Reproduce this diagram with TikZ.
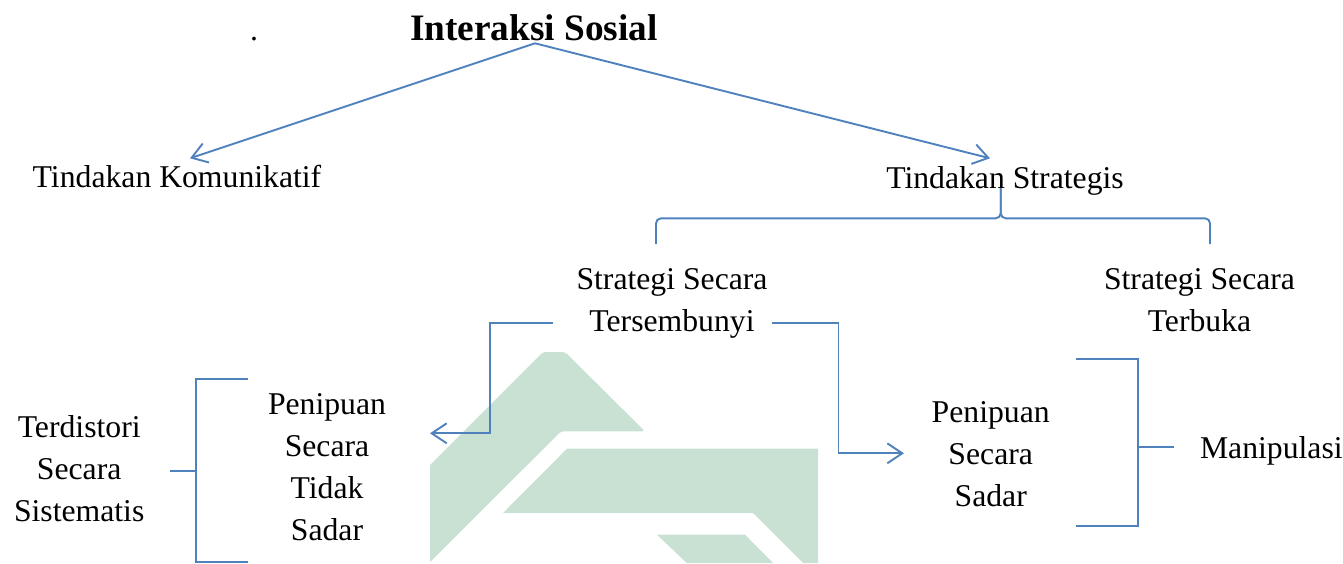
\documentclass[tikz,border=0pt]{standalone}
\usepackage{fontspec}
\setmainfont{Liberation Serif}
\usetikzlibrary{arrows.meta,calc}
\definecolor{lineblue}{HTML}{4F81BD}
\definecolor{wmgreen}{HTML}{C8E1D3}
\begin{document}
\begin{tikzpicture}[x=1pt,y=-1pt,
  lbl/.style={font=\fontsize{31.7}{42.2}\selectfont, align=center, inner sep=0pt, anchor=base},
  conn/.style={draw=lineblue, line width=1.9pt},
  arr/.style={conn, -{Straight Barb[length=15pt,width=20pt]}}]
\useasboundingbox (0,0) rectangle (1343,563);
% watermark
\begin{scope}
\clip (430,340) rectangle (818,563);
\fill[wmgreen, rounded corners=3pt] (543,352) -- (565,352) -- (645,431.3) -- (561,431.3) -- (400,592) -- (380,600) -- (380,515) -- cycle;
\fill[wmgreen] (567,448.7) -- (818,448.7) -- (818,563) -- (803,563) -- (753,513) -- (503,513) -- cycle;
\fill[wmgreen] (657,534.7) -- (745,534.7) -- (773,563) -- (686.7,563) -- cycle;
\end{scope}
% texts (multi-line nodes: base = baseline of last line)
\node[lbl, font=\bfseries\fontsize{37.3}{44}\selectfont] (title) at (534,40.7) {Interaksi Sosial};
\node[lbl] (dot) at (254,40) {.};
\node[lbl] (tk) at (177,187.5) {Tindakan Komunikatif};
\node[lbl] (ts) at (1005,188.3) {Tindakan Strategis};
\node[lbl] (sst) at (672,331.5) {Strategi Secara\\Tersembunyi};
\node[lbl] (ssb) at (1199.5,331.7) {Strategi Secara\\Terbuka};
\node[lbl] (pts) at (327,540.7) {Penipuan\\Secara\\Tidak\\Sadar};
\node[lbl] (psd) at (990.7,506.7) {Penipuan\\Secara\\Sadar};
\node[lbl] (tss) at (79.2,521.7) {Terdistori\\Secara\\Sistematis};
\node[lbl, anchor=base west] (man) at (1199.8,458.3) {Manipulasi};
% coordinates
\coordinate (apex) at (535,43.3);
\coordinate (tkTip) at (190,158.3);
\coordinate (tsTip) at (990,158.3);
\coordinate (bStem) at (1000.7,188);
\coordinate (bL) at (656,244);
\coordinate (bR) at (1210,244);
\coordinate (sstL) at (552.7,323.3);
\coordinate (sstR) at (771.7,323.3);
\coordinate (ptsIn) at (430,433.3);
\coordinate (psdIn) at (904,453.3);
% connectors
\draw[arr] (apex) -- (tkTip);
\draw[arr] (apex) -- (tsTip);
\draw[conn, rounded corners=5pt] (bStem) -- (1000.7,218.3) -- (656,218.3) -- (bL);
\draw[conn, rounded corners=5pt] (bStem) -- (1000.7,218.3) -- (1210,218.3) -- (bR);
\draw[arr] (sstL) -- (490,323.3) -- (490,433.3) -- (ptsIn);
\draw[arr] (sstR) -- (838.5,323.3) -- (838.5,453.3) -- (psdIn);
% brackets
\draw[conn] (248.3,379.3) -- (195.7,379.3) -- (195.7,561.7) -- (248.3,561.7);
\draw[conn] (170,471) -- (195.7,471);
\draw[conn] (1075.7,359.3) -- (1138.3,359.3) -- (1138.3,525.7) -- (1075.7,525.7);
\draw[conn] (1138.3,447) -- (1174.3,447);
\end{tikzpicture}
\end{document}
